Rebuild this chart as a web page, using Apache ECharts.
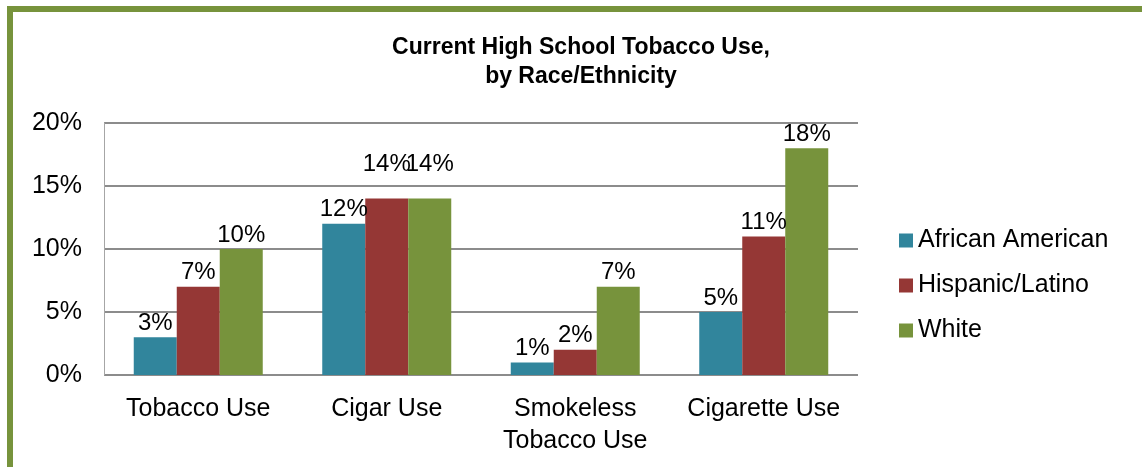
<!DOCTYPE html>
<html>
<head>
<meta charset="utf-8">
<script src="https://cdn.jsdelivr.net/npm/echarts@6/dist/echarts.min.js"></script>
<style>
  html, body { margin: 0; padding: 0; background: #fff; }
  #chart { width: 1142px; height: 467px; }
</style>
</head>
<body>
<div id="chart"></div>
<script>
const categories = ["Tobacco Use", "Cigar Use", "Smokeless\nTobacco Use", "Cigarette Use"];
const africanAmerican = [3, 12, 1, 5];
const hispanicLatino = [7, 14, 2, 11];
const white = [10, 14, 7, 18];
const yTicks = [0, 5, 10, 15, 20];

const FONT = "'Liberation Sans', Arial, sans-serif";
const BORDER = "#77933c";

const chart = echarts.init(document.getElementById("chart"));

function barSeries(name, values, color, raised) {
  return {
    name: name,
    type: "bar",
    data: values.map((v, i) => ({
      value: v,
      label: raised.includes(i) ? { offset: [0, -20] } : undefined,
    })),
    barWidth: 43,
    barGap: "0%",
    itemStyle: { color: color },
    label: {
      show: true,
      position: "top",
      distance: 2,
      formatter: "{c}%",
      color: "#000",
      fontSize: 24,
      fontFamily: FONT,
    },
  };
}

const option = {
  backgroundColor: "#fff",
  animation: false,
  title: {
    text: "Current High School Tobacco Use,\nby Race/Ethnicity",
    left: 576,
    top: 28,
    textAlign: "center",
    textStyle: {
      fontFamily: FONT,
      fontWeight: "bold",
      fontSize: 23,
      lineHeight: 29,
      color: "#000",
    },
  },
  graphic: [
    { type: "rect", shape: { x: 7, y: 6, width: 1135, height: 6 }, style: { fill: BORDER } },
    { type: "rect", shape: { x: 7, y: 6, width: 6, height: 461 }, style: { fill: BORDER } },
  ],
  legend: {
    orient: "vertical",
    left: 894,
    top: 223,
    itemWidth: 14,
    itemHeight: 14,
    itemGap: 20,
    icon: "rect",
    textStyle: { fontFamily: FONT, fontSize: 25, color: "#000" },
    data: ["African American", "Hispanic/Latino", "White"],
  },
  grid: { left: 104, right: 284, top: 123, bottom: 92 },
  xAxis: {
    type: "category",
    data: categories,
    axisLine: { show: false },
    axisTick: { show: false },
    axisLabel: {
      margin: 18,
      fontFamily: FONT,
      fontSize: 25,
      lineHeight: 32,
      color: "#000",
      interval: 0,
    },
  },
  yAxis: {
    type: "value",
    min: yTicks[0],
    max: yTicks[yTicks.length - 1],
    interval: 5,
    axisLine: { show: true, lineStyle: { color: "#a6a6a6", width: 1 } },
    axisTick: { show: false },
    splitLine: { lineStyle: { color: "#8c8c8c", width: 2 } },
    axisLabel: {
      margin: 22,
      fontFamily: FONT,
      fontSize: 25,
      color: "#000",
      formatter: "{value}%",
    },
  },
  series: [
    barSeries("African American", africanAmerican, "#31859c", []),
    barSeries("Hispanic/Latino", hispanicLatino, "#953735", [1]),
    barSeries("White", white, "#77933c", [1]),
  ],
};

chart.setOption(option);
</script>
</body>
</html>
